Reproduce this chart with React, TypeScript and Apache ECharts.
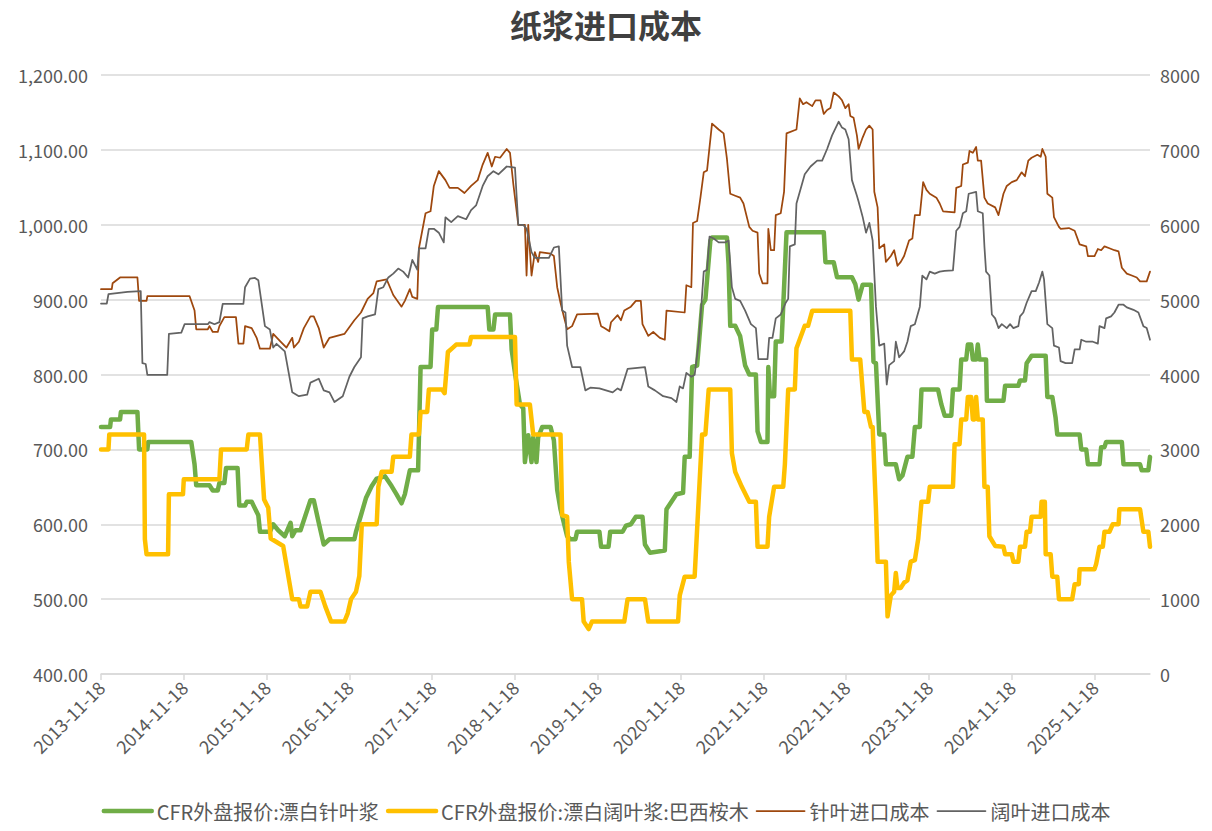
import React, { useEffect, useRef } from "react";
import * as echarts from "echarts";

// x positions: years elapsed since 2013-11-18 (tick i = (2013+i)-11-18)
const tickYears = [2013, 2014, 2015, 2016, 2017, 2018, 2019, 2020, 2021, 2022, 2023, 2024, 2025];
const X_MAX = 12.67;

const softCfrX = [0,0.11,0.12,0.23,0.24,0.44,0.46,0.56,0.57,1.09,1.13,1.15,1.31,1.35,1.41,1.43,1.49,1.51,1.65,1.67,1.74,1.76,1.82,1.9,1.92,2.04,2.08,2.14,2.22,2.29,2.31,2.35,2.41,2.47,2.53,2.57,2.63,2.69,2.76,3.06,3.08,3.14,3.2,3.27,3.33,3.43,3.51,3.57,3.63,3.67,3.73,3.83,3.86,3.98,4.0,4.05,4.07,4.67,4.69,4.74,4.76,4.94,4.96,5.0,5.06,5.1,5.12,5.16,5.2,5.22,5.26,5.28,5.33,5.43,5.47,5.51,5.55,5.59,5.63,5.67,5.73,5.75,6.02,6.04,6.13,6.15,6.3,6.34,6.4,6.46,6.54,6.57,6.63,6.81,6.83,6.89,6.95,7.03,7.05,7.11,7.14,7.2,7.26,7.3,7.36,7.38,7.56,7.58,7.6,7.66,7.72,7.78,7.83,7.91,7.93,7.97,8.05,8.06,8.08,8.13,8.15,8.22,8.24,8.28,8.73,8.75,8.85,8.89,9.07,9.11,9.15,9.2,9.3,9.33,9.36,9.4,9.46,9.48,9.6,9.64,9.68,9.74,9.8,9.83,9.89,9.91,10.11,10.15,10.19,10.27,10.29,10.37,10.39,10.45,10.47,10.51,10.53,10.57,10.59,10.61,10.69,10.7,10.9,10.92,11.08,11.1,11.16,11.18,11.24,11.41,11.43,11.49,11.53,11.55,11.82,11.84,11.9,11.92,12.06,12.08,12.12,12.14,12.33,12.35,12.55,12.57,12.65,12.67];
const softCfrY = [730,730,740,740,750,750,700,700,710,710,680,652,652,645,645,655,655,675,675,625,625,630,630,612,590,590,600,592,584,602,584,592,592,612,632,632,602,573,580,580,590,612,635,651,661,664,651,640,628,640,672,672,810,810,860,860,890,890,860,860,880,880,833,802,760,755,683,719,683,716,683,716,730,730,712,646,620,602,584,580,580,590,590,570,570,590,590,598,600,610,610,573,562,565,620,630,640,642,690,690,810,812,893,900,979,983,983,947,865,865,851,812,800,800,724,710,710,810,771,771,844,844,891,990,990,950,950,930,930,921,900,920,920,817,815,720,720,680,680,660,665,690,690,730,730,780,780,760,745,745,780,780,820,820,840,840,820,820,840,820,820,765,765,785,785,792,792,815,825,825,770,770,742,720,720,700,700,680,680,703,703,710,710,680,680,672,672,690];

const hardCfrX = [0,0.09,0.1,0.52,0.53,0.55,0.81,0.82,0.99,1.0,1.43,1.45,1.76,1.78,1.92,1.97,2.02,2.05,2.2,2.31,2.39,2.41,2.49,2.53,2.65,2.71,2.78,2.94,2.98,3.02,3.08,3.12,3.15,3.33,3.35,3.39,3.51,3.53,3.73,3.75,3.84,3.86,3.94,3.96,4.12,4.15,4.19,4.25,4.29,4.45,4.47,5.0,5.02,5.18,5.22,5.55,5.57,5.63,5.65,5.69,5.81,5.83,5.89,5.93,6.32,6.36,6.57,6.61,6.97,6.99,7.05,7.17,7.26,7.3,7.34,7.6,7.62,7.66,7.74,7.83,7.91,7.93,8.05,8.07,8.13,8.24,8.26,8.3,8.38,8.4,8.5,8.54,8.59,9.05,9.07,9.17,9.22,9.26,9.3,9.32,9.36,9.38,9.48,9.5,9.54,9.58,9.6,9.62,9.66,9.7,9.74,9.78,9.83,9.87,9.91,9.99,10.01,10.29,10.31,10.37,10.39,10.45,10.47,10.51,10.53,10.55,10.57,10.59,10.65,10.67,10.71,10.73,10.8,10.9,10.92,11.0,11.02,11.08,11.1,11.16,11.18,11.22,11.24,11.35,11.36,11.4,11.41,11.47,11.49,11.55,11.57,11.73,11.76,11.81,11.82,12.0,12.02,12.06,12.1,12.12,12.18,12.22,12.29,12.3,12.55,12.59,12.65,12.67];
const hardCfrY = [700,700,720,720,580,560,560,640,640,660,660,700,700,720,720,633,622,581,571,500,500,490,490,510,510,490,470,470,481,500,510,531,600,600,650,670,670,690,690,720,720,750,750,780,780,775,830,836,840,840,850,850,760,760,720,720,612,610,550,500,500,470,460,470,470,500,500,470,470,505,530,530,720,720,780,780,695,670,650,630,630,570,570,610,650,650,680,780,780,835,865,865,885,885,820,820,750,750,730,730,620,550,550,477,505,510,535,515,515,522,525,550,552,580,630,630,650,650,707,707,740,740,770,770,740,740,770,740,740,650,650,584,571,570,560,560,550,550,570,570,590,590,610,610,630,630,560,560,530,530,500,500,520,520,540,540,547,570,570,590,590,600,600,620,620,590,590,570];

const softCostX = [0,0.13,0.14,0.23,0.44,0.46,0.55,0.56,1.07,1.13,1.15,1.29,1.31,1.35,1.41,1.43,1.49,1.63,1.66,1.72,1.74,1.82,1.88,1.92,2.04,2.08,2.16,2.24,2.31,2.33,2.39,2.45,2.53,2.57,2.63,2.69,2.76,2.94,3.06,3.14,3.22,3.29,3.33,3.45,3.53,3.63,3.67,3.73,3.76,3.82,3.84,3.92,3.98,4.02,4.08,4.16,4.21,4.31,4.39,4.47,4.55,4.61,4.67,4.72,4.76,4.82,4.9,4.94,4.98,5.04,5.12,5.14,5.16,5.2,5.24,5.28,5.3,5.43,5.47,5.51,5.55,5.59,5.63,5.69,5.75,6.0,6.04,6.08,6.14,6.16,6.24,6.28,6.32,6.4,6.46,6.52,6.54,6.61,6.67,6.75,6.81,6.83,7.05,7.07,7.13,7.15,7.2,7.24,7.28,7.32,7.38,7.46,7.52,7.56,7.6,7.66,7.72,7.76,7.83,7.87,7.93,7.95,7.99,8.05,8.06,8.09,8.13,8.15,8.21,8.25,8.28,8.4,8.44,8.48,8.52,8.59,8.63,8.69,8.73,8.77,8.81,8.85,8.91,8.95,8.99,9.03,9.05,9.09,9.13,9.15,9.2,9.24,9.28,9.32,9.34,9.38,9.4,9.46,9.48,9.54,9.58,9.62,9.66,9.7,9.76,9.8,9.83,9.89,9.93,9.97,10.01,10.09,10.13,10.17,10.31,10.33,10.39,10.41,10.47,10.49,10.53,10.57,10.59,10.63,10.67,10.71,10.8,10.84,10.9,10.94,11.0,11.06,11.12,11.16,11.2,11.24,11.31,11.35,11.37,11.41,11.43,11.49,11.51,11.57,11.59,11.69,11.76,11.82,11.9,11.92,12.0,12.04,12.08,12.12,12.18,12.24,12.29,12.33,12.39,12.45,12.51,12.55,12.63,12.67];
const softCostY = [5140,5140,5218,5296,5296,4984,4984,5046,5046,4854,4604,4604,4646,4568,4568,4646,4766,4766,4412,4412,4646,4620,4490,4344,4344,4542,4450,4360,4490,4360,4438,4620,4776,4776,4620,4360,4490,4542,4724,4828,5010,5088,5244,5270,5062,4906,4984,5140,5036,5010,5686,6154,6180,6518,6716,6596,6492,6492,6424,6518,6596,6804,6960,6778,6908,6895,7012,6960,6544,5998,5998,5322,5998,5322,5634,5504,5634,5614,5582,5166,4958,4776,4604,4646,4802,4812,4646,4620,4578,4698,4792,4724,4854,4906,4984,4984,4672,4516,4568,4490,4464,4854,4828,5192,5166,6024,6050,6362,6700,6726,7350,7272,7220,6882,6414,6388,6362,6284,5972,5920,5894,5348,5218,5218,5946,5660,5660,6128,6154,6440,7220,7272,7688,7610,7636,7584,7662,7662,7480,7532,7558,7766,7714,7662,7558,7610,7454,7428,7194,7012,7168,7272,7324,7272,6440,6232,5686,5738,5504,5582,5660,5452,5504,5582,5790,5816,6128,6128,6570,6466,6414,6362,6284,6180,6164,6492,6518,6804,6830,6986,6960,7038,6856,6856,6362,6284,6232,6128,6414,6518,6570,6596,6700,6648,6856,6895,6934,6908,7012,6908,6414,6362,6102,5972,5946,5956,5920,5738,5712,5582,5582,5676,5660,5712,5686,5660,5645,5426,5348,5322,5296,5244,5244,5374];

const hardCostX = [0,0.07,0.09,0.32,0.48,0.5,0.54,0.56,0.8,0.82,0.97,1.01,1.29,1.31,1.37,1.43,1.47,1.72,1.74,1.8,1.86,1.9,1.98,2.04,2.08,2.12,2.22,2.31,2.39,2.49,2.53,2.63,2.69,2.76,2.82,2.92,3.0,3.06,3.14,3.16,3.22,3.31,3.35,3.41,3.47,3.53,3.59,3.65,3.71,3.76,3.82,3.84,3.92,3.96,4.02,4.08,4.14,4.16,4.23,4.31,4.41,4.47,4.53,4.61,4.67,4.74,4.8,4.9,5.0,5.04,5.1,5.14,5.2,5.24,5.41,5.47,5.53,5.57,5.61,5.63,5.69,5.79,5.85,5.91,6.02,6.1,6.18,6.24,6.28,6.36,6.57,6.61,6.69,6.79,6.89,6.95,6.99,7.03,7.07,7.13,7.17,7.22,7.28,7.32,7.35,7.4,7.46,7.54,7.58,7.62,7.66,7.72,7.78,7.85,7.91,7.94,8.05,8.07,8.11,8.15,8.21,8.27,8.3,8.32,8.38,8.4,8.46,8.5,8.57,8.65,8.71,8.77,8.83,8.91,8.95,8.99,9.03,9.07,9.13,9.15,9.2,9.24,9.28,9.32,9.36,9.4,9.46,9.49,9.52,9.58,9.6,9.64,9.7,9.74,9.78,9.83,9.89,9.92,9.97,10.01,10.07,10.13,10.19,10.29,10.33,10.37,10.41,10.45,10.48,10.57,10.59,10.65,10.67,10.69,10.73,10.76,10.8,10.84,10.88,10.94,10.98,11.02,11.08,11.1,11.14,11.18,11.24,11.29,11.33,11.37,11.39,11.43,11.49,11.51,11.57,11.59,11.65,11.73,11.76,11.82,11.84,11.9,11.98,12.04,12.06,12.12,12.14,12.2,12.24,12.29,12.35,12.39,12.47,12.53,12.59,12.63,12.67];
const hardCostY = [4948,4948,5072,5104,5114,4152,4140,3996,3996,4542,4560,4672,4672,4700,4672,4700,4942,4942,5166,5280,5290,5260,4646,4600,4360,4410,4308,3762,3710,3730,3892,3944,3788,3762,3632,3710,3970,4100,4230,4750,4776,4802,5140,5166,5296,5348,5415,5374,5296,5530,5400,5686,5686,5946,5946,5894,5764,6100,6034,6116,6074,6196,6258,6518,6648,6716,6674,6778,6764,5998,5998,5946,5634,5556,5556,5696,5712,4854,4828,4386,4100,4100,3788,3824,3814,3788,3762,3814,3788,4074,4100,3840,3788,3710,3684,3632,3840,3814,4022,3970,3996,4438,5374,5400,5842,5816,5764,5764,5790,5166,5010,4984,4854,4672,4620,4204,4204,4490,4490,4750,4802,4958,5010,5712,5738,6284,6518,6674,6778,6856,6856,7012,7194,7376,7298,7272,7142,6596,6388,6310,6102,5894,6024,5790,4906,4386,4412,3866,4126,4178,4438,4230,4308,4438,4646,4672,4906,5322,5270,5374,5348,5374,5384,5390,5920,5972,6154,6180,6414,6440,6180,6154,5712,5374,5322,4802,4750,4620,4672,4620,4672,4620,4646,4776,4828,4958,5114,5114,5228,5374,5270,4672,4620,4386,4360,4178,4152,4152,4334,4334,4464,4438,4438,4412,4646,4620,4750,4776,4828,4932,4932,4896,4864,4828,4646,4620,4464];

const seriesNames = ["CFR外盘报价:漂白针叶浆", "CFR外盘报价:漂白阔叶浆:巴西桉木", "针叶进口成本", "阔叶进口成本"];
const seriesColors = ["#70AD47", "#FFC000", "#9E480E", "#636363"];

const zip = (xs: number[], ys: number[]) => xs.map((x, i) => [x, ys[i]]);

const FONT = "'Noto Sans CJK SC', 'Noto Sans', sans-serif";
const TEXT = "#595959";
const GRID = "#D9D9D9";

export default function App() {
  const ref = useRef<HTMLDivElement>(null);
  useEffect(() => {
    document.body.style.margin = "0";
    if (!ref.current) return;
    const chart = echarts.init(ref.current, undefined, { renderer: "svg" });
    const datasets = [zip(softCfrX, softCfrY), zip(hardCfrX, hardCfrY), zip(softCostX, softCostY), zip(hardCostX, hardCostY)];
    const widths = [4.5, 4.5, 1.75, 1.75];
    chart.setOption({
      animation: false,
      backgroundColor: "#ffffff",
      textStyle: { fontFamily: FONT },
      title: {
        text: "纸浆进口成本",
        left: "center",
        top: 3,
        textStyle: { fontFamily: FONT, fontSize: 32, fontWeight: "bold", color: "#404040" },
      },
      grid: { left: 101, right: 62, top: 75, bottom: 157 },
      legend: {
        bottom: 5,
        left: "center",
        itemWidth: 48,
        itemHeight: 4,
        itemGap: 7,
        itemStyle: { opacity: 0 },
        lineStyle: { width: "inherit", cap: "round" },
        textStyle: { fontFamily: FONT, fontSize: 20, color: TEXT },
        data: seriesNames,
      },
      xAxis: {
        type: "value",
        min: 0,
        max: X_MAX,
        interval: 1,
        axisLine: { show: true, lineStyle: { color: GRID, width: 1.5 } },
        axisTick: { show: true, length: 6, lineStyle: { color: GRID, width: 1.5 }, customValues: tickYears.map((_, i) => i) },
        splitLine: { show: false },
        axisLabel: {
          rotate: 45,
          margin: 10,
          fontSize: 18,
          color: TEXT,
          fontFamily: FONT,
          customValues: tickYears.map((_, i) => i),
          formatter: (v: number) => `${tickYears[Math.round(v)]}-11-18`,
        },
      },
      yAxis: [
        {
          type: "value",
          min: 400,
          max: 1200,
          interval: 100,
          axisLine: { show: false },
          axisTick: { show: false },
          splitLine: { lineStyle: { color: GRID, width: 1.5 } },
          axisLabel: {
            margin: 13,
            fontSize: 18,
            color: TEXT,
            fontFamily: FONT,
            formatter: (v: number) => v.toLocaleString("en-US", { minimumFractionDigits: 2, maximumFractionDigits: 2 }),
          },
        },
        {
          type: "value",
          min: 0,
          max: 8000,
          interval: 1000,
          position: "right",
          axisLine: { show: false },
          axisTick: { show: false },
          splitLine: { show: false },
          axisLabel: { margin: 10, fontSize: 18, color: TEXT, fontFamily: FONT, formatter: (v: number) => String(v) },
        },
      ],
      series: seriesNames.map((name, i) => ({
        name,
        type: "line",
        yAxisIndex: i < 2 ? 0 : 1,
        data: datasets[i],
        symbol: "none",
        showSymbol: false,
        color: seriesColors[i],
        lineStyle: { color: seriesColors[i], width: widths[i], cap: "round", join: "round" },
      })),
    });
    return () => chart.dispose();
  }, []);
  return <div ref={ref} style={{ width: 1212, height: 831 }} />;
}
